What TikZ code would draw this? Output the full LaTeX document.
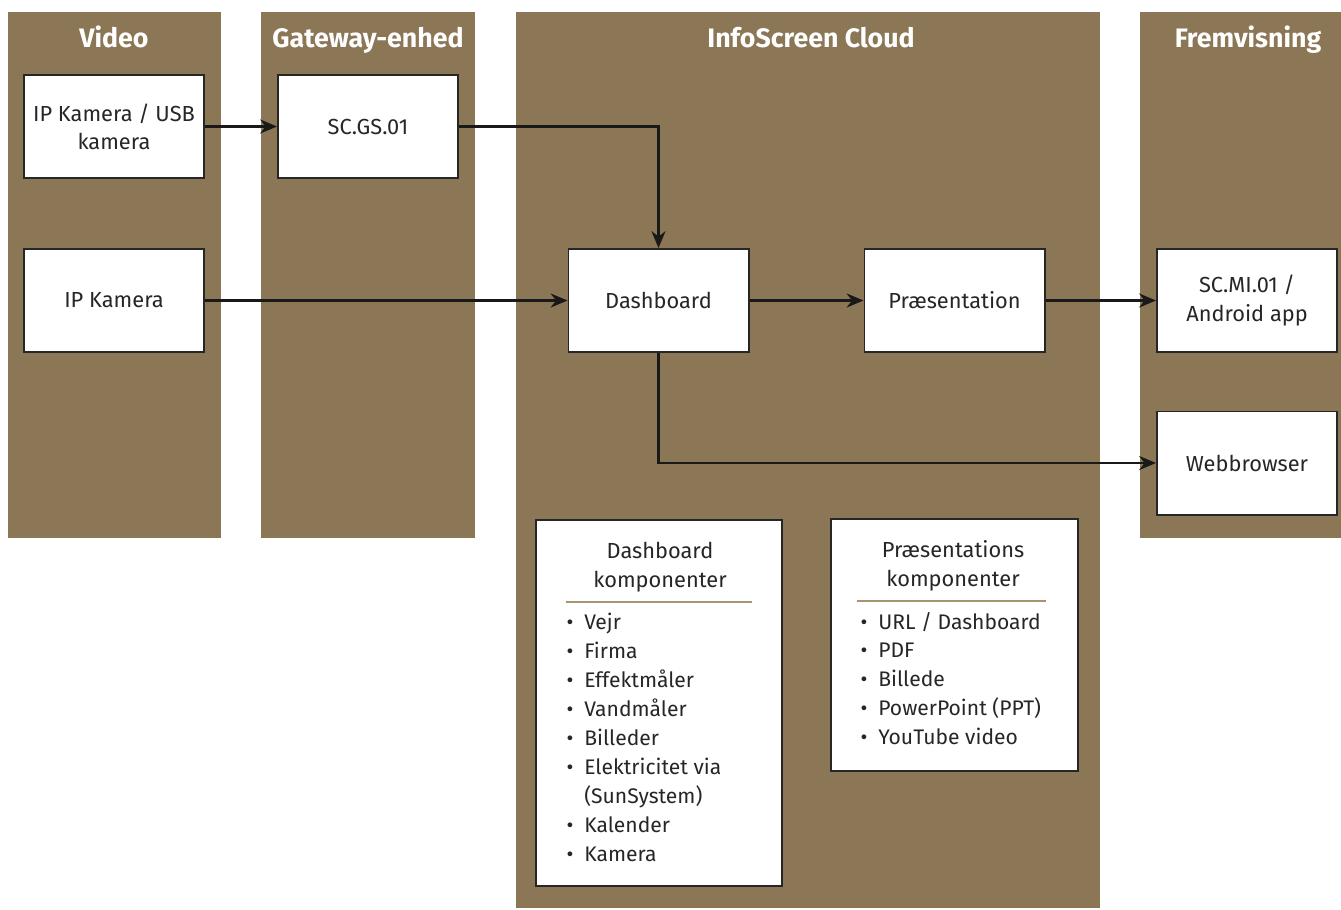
\documentclass[tikz,border=0pt]{standalone}
\usepackage{fontspec}
\setmainfont{Fira Sans}
\usetikzlibrary{arrows.meta}
\definecolor{brun}{HTML}{8B7656}
\definecolor{streg}{HTML}{A8946F}

\begin{document}
\begin{tikzpicture}[x=0.025cm,y=-0.025cm]
\tikzset{boks/.style={draw=black!85, line width=1.4pt, fill=white, minimum width=4.5cm, minimum height=2.575cm, align=center, text=black!85, font=\fontsize{15.5}{20}\selectfont, inner sep=2pt},
  kompboks/.style={draw=black!85, line width=1.4pt, fill=white, inner sep=0pt},
  overskrift/.style={anchor=base, text=white, font=\fontsize{19}{20}\selectfont\bfseries},
  komptitel/.style={align=center, text=black!85, font=\fontsize{15.5}{20.5}\selectfont},
  punkt/.style={anchor=base, text=black!85, font=\fontsize{15}{16}\selectfont, inner sep=0pt},
  liste/.style={anchor=base west, text=black!85, font=\fontsize{15}{18}\selectfont, inner sep=0pt},
  pil/.style={draw=black!90, line width=1.5pt, -{Stealth[length=12pt,width=10pt]}}}
\useasboundingbox (0,0) rectangle (1341,909);
\fill[white] (0,0) rectangle (1341,909);
% kolonner
\fill[brun] (8,12) rectangle (221,538);
\fill[brun] (261,12) rectangle (475,538);
\fill[brun] (516,12) rectangle (1100,908);
\fill[brun] (1140,12) rectangle (1341,538);
\node[overskrift] (tVideo) at (114,47) {Video};
\node[overskrift] (tGateway) at (368,47) {Gateway-enhed};
\node[overskrift] (tCloud) at (811,47) {InfoScreen Cloud};
\node[overskrift] (tFrem) at (1248,47) {Fremvisning};
% bokse
\node[boks] (ipusb) at (114,126.5) {IP Kamera / USB\\kamera};
\node[boks] (scgs) at (368,126.5) {SC.GS.01};
\node[boks] (ipk) at (114,300.5) {IP Kamera};
\node[boks] (dash) at (658.5,300.5) {Dashboard};
\node[boks] (praes) at (954.5,300.5) {Præsentation};
\node[boks] (scmi) at (1247,300.5) {SC.MI.01 /\\Android app};
\node[boks] (web) at (1247,463) {Webbrowser};
% pile
\draw[pil] (ipusb) -- (scgs);
\draw[pil] (scgs.east) -| (dash.north);
\draw[pil] (ipk) -- (dash);
\draw[pil] (dash) -- (praes);
\draw[pil] (praes) -- (scmi);
\draw[pil] (dash.south) |- (web.west);
% komponenter
\node[kompboks, minimum width=6.15cm, minimum height=9.15cm] (dkomp) at (659,703) {};
\node[komptitel] (dkt) at (660,567) {Dashboard\\komponenter};
\draw[streg, line width=1.6pt] (566,602) -- (752,602);
\foreach \y in {629, 658, 687, 716, 745, 774, 832, 861}
  \node[punkt] (dp\y) at (570,\y) {•};
\foreach \y/\tekst in {629/Vejr, 658/Firma, 687/Effektmåler, 716/Vandmåler, 745/Billeder, 774/{Elektricitet via}, 803/{(SunSystem)}, 832/Kalender, 861/Kamera}
  \node[liste] (dl\y) at (584,\y) {\tekst};
\node[kompboks, minimum width=6.175cm, minimum height=6.3cm] (pkomp) at (954.5,645) {};
\node[komptitel] (pkt) at (953,566) {Præsentations\\komponenter};
\draw[streg, line width=1.6pt] (857,601) -- (1046,601);
\foreach \y/\tekst in {629/{URL / Dashboard}, 657/PDF, 686/Billede, 715/{PowerPoint (PPT)}, 744/{YouTube video}} {
  \node[punkt] (pp\y) at (864,\y) {•};
  \node[liste] (pl\y) at (878,\y) {\tekst};
}
\end{tikzpicture}
\end{document}
